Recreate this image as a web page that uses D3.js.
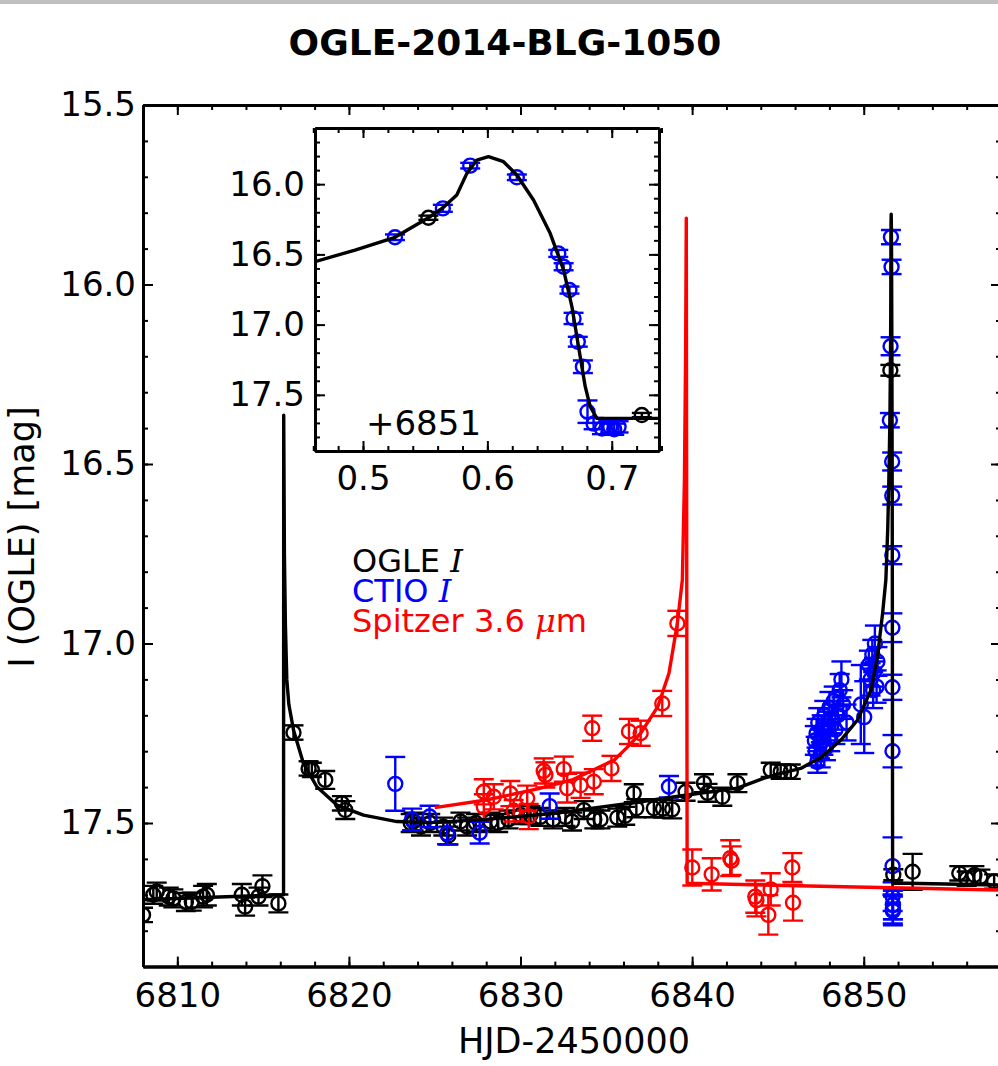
<!DOCTYPE html>
<html>
<head>
<meta charset="utf-8">
<script src="https://cdn.jsdelivr.net/npm/d3@7"></script>
<style>
  body { margin: 0; background: #fff; }
  svg { display: block; }
</style>
</head>
<body>
<script>
// ---- data (HJD-2450000, I mag, error) ----
var ogle = [
  [6808.0,17.756,0.02],[6808.6,17.70,0.025],[6808.8,17.691,0.025],[6809.5,17.705,0.025],
  [6809.77,17.71,0.025],[6810.5,17.72,0.025],[6810.84,17.719,0.025],[6811.5,17.705,0.03],
  [6811.72,17.70,0.03],[6813.76,17.70,0.03],[6813.95,17.733,0.025],[6814.73,17.705,0.025],
  [6814.96,17.676,0.03],[6815.89,17.724,0.025],[6816.77,17.248,0.02],[6817.65,17.348,0.02],
  [6817.84,17.352,0.02],[6818.62,17.38,0.025],[6819.59,17.445,0.02],[6819.79,17.464,0.025],
  [6823.6,17.50,0.025],[6823.77,17.496,0.025],[6824.2,17.51,0.025],[6824.74,17.50,0.025],
  [6825.5,17.51,0.025],[6825.8,17.535,0.025],[6826.5,17.496,0.025],[6826.89,17.51,0.025],
  [6827.4,17.50,0.025],[6828.25,17.496,0.025],[6828.7,17.50,0.025],[6829.3,17.49,0.025],
  [6830.0,17.478,0.025],[6830.58,17.478,0.025],[6831.16,17.483,0.025],[6831.9,17.49,0.025],
  [6832.62,17.483,0.025],[6833.0,17.496,0.025],[6833.69,17.464,0.025],[6834.3,17.49,0.025],
  [6834.66,17.49,0.025],[6835.64,17.485,0.025],[6836.1,17.48,0.025],[6836.6,17.417,0.025],
  [6836.75,17.459,0.025],[6837.77,17.459,0.025],[6838.3,17.46,0.025],[6838.84,17.462,0.025],
  [6839.62,17.413,0.025],[6840.69,17.389,0.025],[6840.9,17.416,0.025],[6841.76,17.427,0.025],
  [6842.64,17.389,0.025],[6844.58,17.352,0.02],[6845.16,17.357,0.02],[6845.75,17.357,0.02],
  [6852.85,17.636,0.05],[6855.57,17.64,0.02],[6856.0,17.655,0.02],[6856.45,17.645,0.025],
  [6856.8,17.65,0.02],[6857.6,17.663,0.02]
];
// OGLE points on the second caustic, days after 6851
var ogleSpike = [[0.5526,16.239,0.015],[0.7242,17.644,0.015]];

var ctio = [
  [6822.7,17.391,0.075],[6823.68,17.49,0.03],[6824.7,17.482,0.03],[6825.72,17.529,0.03],
  [6827.62,17.527,0.03],[6831.7,17.453,0.035],[6838.65,17.399,0.03],
  [6847.15,17.27,0.04],[6847.2,17.30,0.04],[6847.25,17.25,0.04],[6847.3,17.33,0.03],
  [6847.35,17.22,0.04],[6847.45,17.28,0.04],[6847.5,17.31,0.035],[6847.55,17.24,0.04],
  [6847.65,17.27,0.04],[6847.7,17.20,0.04],[6847.8,17.29,0.035],[6847.9,17.23,0.04],
  [6848.0,17.18,0.045],[6848.05,17.26,0.04],[6848.15,17.21,0.04],[6848.25,17.16,0.04],
  [6848.35,17.24,0.04],[6848.5,17.20,0.04],[6848.6,17.13,0.045],[6848.7,17.10,0.05],
  [6848.8,17.17,0.04],[6849.0,17.22,0.05],[6849.83,17.17,0.11],[6850.03,17.205,0.10],
  [6850.3,17.06,0.04],[6850.4,17.10,0.045],[6850.5,17.03,0.04],[6850.55,17.13,0.05],
  [6850.6,17.08,0.04],[6850.65,17.00,0.05],[6850.75,17.12,0.045],[6850.8,17.05,0.04]
];
// CTIO points on the second caustic, days after 6851
var ctioSpike = [
  [0.5257,16.378,0.02],[0.5642,16.172,0.025],[0.5862,15.868,0.02],[0.6237,15.951,0.02],
  [0.657,16.493,0.025],[0.6613,16.588,0.025],[0.666,16.754,0.025],[0.6693,16.956,0.04],
  [0.6727,17.122,0.035],[0.6768,17.30,0.045],[0.6805,17.62,0.08],[0.6854,17.705,0.04],
  [0.6921,17.74,0.04],[0.6988,17.728,0.04],[0.7055,17.728,0.04],[0.702,17.745,0.04]
];

var spitzer = [
  [6827.86,17.413,0.035],[6827.86,17.455,0.035],[6828.44,17.427,0.035],[6829.41,17.418,0.035],
  [6829.6,17.466,0.03],[6830.39,17.431,0.035],[6830.48,17.482,0.035],[6831.35,17.355,0.035],
  [6831.45,17.366,0.035],[6832.52,17.35,0.035],[6832.72,17.403,0.04],[6833.5,17.395,0.035],
  [6834.27,17.385,0.035],[6834.18,17.236,0.035],[6835.3,17.348,0.035],[6836.32,17.245,0.035],
  [6837.0,17.25,0.035],[6838.26,17.167,0.035],[6839.14,16.944,0.035],[6840.01,17.624,0.05],
  [6841.14,17.643,0.045],[6842.22,17.598,0.05],[6842.3,17.605,0.04],[6843.68,17.705,0.045],
  [6843.75,17.715,0.045],[6844.58,17.685,0.045],[6844.44,17.756,0.055],[6845.84,17.624,0.04],
  [6845.88,17.722,0.05]
];

// ---- model curves ----
var ogleModelPre = [
  [6808,17.714],[6812,17.707],[6816.15,17.70],[6816.19,17.70],[6816.2,16.364],[6816.24,16.75],
  [6816.3,16.95],[6816.38,17.10],[6816.5,17.17],[6816.77,17.241],[6817.35,17.334],[6818.13,17.399],
  [6819.3,17.45],[6820.85,17.478],[6822.8,17.496],[6824.74,17.499],[6828,17.49],[6832,17.473],
  [6836.4,17.445],[6839.7,17.422],[6842.64,17.403],[6844.2,17.375],[6845.16,17.362],[6846.33,17.348],
  [6847.2,17.325],[6847.5,17.318],[6848.67,17.269],[6849.64,17.213],[6850.42,17.13],[6850.8,17.037],
  [6851.1,16.916],[6851.29,16.823],[6851.4,16.68]
];
// caustic crossing, days after 6851
var ogleModelSpike = [
  [0.4614,16.552],[0.4936,16.469],[0.5257,16.378],[0.5526,16.239],[0.5647,16.165],[0.5754,16.077],
  [0.5835,15.923],[0.5915,15.828],[0.6009,15.804],[0.613,15.84],[0.6237,15.935],[0.6371,16.113],
  [0.6505,16.35],[0.6613,16.611],[0.668,16.873],[0.6733,17.158],[0.6787,17.442],[0.6827,17.585],
  [0.6881,17.668],[0.7385,17.668]
];
var ogleModelPost = [[6852.5,17.668],[6858,17.673]];

var spitzerModel = [
  [6825.0,17.457],[6828,17.436],[6831,17.405],[6833,17.38],[6835.45,17.325],[6836.2,17.29],
  [6837,17.25],[6838,17.176],[6838.65,17.083],[6839.14,16.944],[6839.43,16.823],[6839.55,16.55],
  [6839.62,16.2],[6839.66,15.815],[6839.71,17.668],[6858,17.687]
];

var spikeOffset = 6851;
var xTicks = [6810, 6820, 6830, 6840, 6850];
var yTicks = [15.5, 16.0, 16.5, 17.0, 17.5];
var insetXTicks = [0.5, 0.6, 0.7];
var insetYTicks = [16.0, 16.5, 17.0, 17.5];

var colors = { ogle: "#000000", ctio: "#0000ff", spitzer: "#ff0000" };

// ---- setup ----
var width = 998, height = 1066;
var svg = d3.select("body").append("svg")
  .attr("width", width)
  .attr("height", height)
  .style("font-family", "'DejaVu Sans', sans-serif");

svg.append("rect").attr("width", width).attr("height", height).attr("fill", "#fff");
svg.append("rect").attr("width", width).attr("height", 4).attr("fill", "#bfbfbf");

var x = d3.scaleLinear().domain([6808, 6858]).range([143, 1001]);
var y = d3.scaleLinear().domain([15.5, 17.9]).range([105, 966.6]);

var xi = d3.scaleLinear().domain([0.4614, 0.738]).range([315, 659]);
var yi = d3.scaleLinear().domain([15.6, 17.9]).range([128, 451]);

var defs = svg.append("defs");
defs.append("clipPath").attr("id", "clip-main").append("rect")
  .attr("x", x.range()[0]).attr("y", y.range()[0])
  .attr("width", x.range()[1] - x.range()[0]).attr("height", y.range()[1] - y.range()[0]);
defs.append("clipPath").attr("id", "clip-inset").append("rect")
  .attr("x", xi.range()[0]).attr("y", yi.range()[0])
  .attr("width", xi.range()[1] - xi.range()[0]).attr("height", yi.range()[1] - yi.range()[0]);

function shift(arr, off) {
  return arr.map(function(d){ return [d[0] + off].concat(d.slice(1)); });
}

// error bars + open circles
function drawPoints(g, data, xs, ys, color) {
  var pt = g.append("g").selectAll("g")
    .data(data)
    .enter()
    .append("g")
    .attr("stroke", color)
    .attr("stroke-width", 2.4)
    .attr("fill", "none");
  pt.append("line")
    .attr("x1", function(d){ return xs(d[0]); })
    .attr("x2", function(d){ return xs(d[0]); })
    .attr("y1", function(d){ return ys(d[1] - d[2]); })
    .attr("y2", function(d){ return ys(d[1] + d[2]); });
  [-1, 1].forEach(function(s){
    pt.append("line")
      .attr("x1", function(d){ return xs(d[0]) - 10; })
      .attr("x2", function(d){ return xs(d[0]) + 10; })
      .attr("y1", function(d){ return ys(d[1] + s * d[2]); })
      .attr("y2", function(d){ return ys(d[1] + s * d[2]); });
  });
  pt.append("circle")
    .attr("cx", function(d){ return xs(d[0]); })
    .attr("cy", function(d){ return ys(d[1]); })
    .attr("r", 7);
}

function drawLine(g, data, xs, ys, color) {
  var line = d3.line()
    .x(function(d){ return xs(d[0]); })
    .y(function(d){ return ys(d[1]); });
  g.append("path")
    .datum(data)
    .attr("d", line)
    .attr("fill", "none")
    .attr("stroke", color)
    .attr("stroke-width", 3.4)
    .attr("stroke-linejoin", "round");
}

// frame with inward ticks on all four sides
function drawFrame(g, xs, ys, xMajor, xMinor, yMajor, yMinor, xFmt, xPad, yPad) {
  var x0 = xs.range()[0], x1 = xs.range()[1], y0 = ys.range()[0], y1 = ys.range()[1];
  var parts = [
    [d3.axisBottom(xs).tickValues(xMajor).tickSize(-10).tickPadding(xPad).tickFormat(d3.format(xFmt)), "translate(0," + y1 + ")"],
    [d3.axisBottom(xs).tickValues(xMinor).tickSize(-5).tickFormat(""), "translate(0," + y1 + ")"],
    [d3.axisTop(xs).tickValues(xMajor).tickSize(-10).tickFormat(""), "translate(0," + y0 + ")"],
    [d3.axisTop(xs).tickValues(xMinor).tickSize(-5).tickFormat(""), "translate(0," + y0 + ")"],
    [d3.axisLeft(ys).tickValues(yMajor).tickSize(-10).tickPadding(yPad).tickFormat(d3.format(".1f")), "translate(" + x0 + ",0)"],
    [d3.axisLeft(ys).tickValues(yMinor).tickSize(-5).tickFormat(""), "translate(" + x0 + ",0)"],
    [d3.axisRight(ys).tickValues(yMajor).tickSize(-10).tickFormat(""), "translate(" + x1 + ",0)"],
    [d3.axisRight(ys).tickValues(yMinor).tickSize(-5).tickFormat(""), "translate(" + x1 + ",0)"]
  ];
  parts.forEach(function(p){
    var a = g.append("g").attr("transform", p[1]).call(p[0].tickSizeOuter(0));
    a.select(".domain").attr("stroke-width", 3).attr("stroke", "#000");
    a.selectAll(".tick line").attr("stroke-width", 2).attr("stroke", "#000");
    a.selectAll("text")
      .attr("font-size", 34)
      .attr("font-family", "'DejaVu Sans', sans-serif")
      .attr("fill", "#000");
  });
}

// ---- main panel ----
var main = svg.append("g");
var mainPlot = main.append("g").attr("clip-path", "url(#clip-main)");

drawPoints(mainPlot, ogle.concat(shift(ogleSpike, spikeOffset)), x, y, colors.ogle);
drawPoints(mainPlot, ctio.concat(shift(ctioSpike, spikeOffset)), x, y, colors.ctio);
drawPoints(mainPlot, spitzer, x, y, colors.spitzer);
drawLine(mainPlot, ogleModelPre.concat(shift(ogleModelSpike, spikeOffset), ogleModelPost), x, y, colors.ogle);
drawLine(mainPlot, spitzerModel, x, y, colors.spitzer);

drawFrame(main, x, y, xTicks, d3.range(6808, 6858.1, 2),
  yTicks, d3.range(155, 179.1, 1).map(function(v){ return v / 10; }), "d", 16, 7);

// legend (tight line spacing, as in the original)
var legend = main.append("g").attr("font-size", 32);
var legendRows = [
  { label: "OGLE ", tail: "I", color: colors.ogle },
  { label: "CTIO ", tail: "I", color: colors.ctio },
  { label: "Spitzer 3.6 ", tail: "\u03bc", after: "m", color: colors.spitzer }
];
legendRows.forEach(function(r, i){
  var t = legend.append("text")
    .attr("x", 352)
    .attr("y", 572 + i * 30)
    .attr("fill", r.color)
    .attr("xml:space", "preserve");
  t.append("tspan").text(r.label);
  t.append("tspan").attr("font-family", "'DejaVu Serif', serif").attr("font-style", "italic").text(r.tail);
  if (r.after) t.append("tspan").text(r.after);
});

// ---- inset ----
var inset = svg.append("g");
inset.append("rect")
  .attr("x", xi.range()[0]).attr("y", yi.range()[0])
  .attr("width", xi.range()[1] - xi.range()[0]).attr("height", yi.range()[1] - yi.range()[0])
  .attr("fill", "#fff");
var insetPlot = inset.append("g").attr("clip-path", "url(#clip-inset)");
drawPoints(insetPlot, ogleSpike, xi, yi, colors.ogle);
drawPoints(insetPlot, ctioSpike, xi, yi, colors.ctio);
drawLine(insetPlot, ogleModelSpike, xi, yi, colors.ogle);

drawFrame(inset, xi, yi, insetXTicks, d3.range(23, 37.1, 1).map(function(v){ return v / 50; }),
  insetYTicks, d3.range(156, 179.1, 1).map(function(v){ return v / 10; }), ".1f", 15, 10);

inset.append("text")
  .attr("x", 366)
  .attr("y", 435)
  .attr("font-size", 34)
  .text("+" + spikeOffset);

// ---- titles ----
svg.append("text")
  .attr("x", 505)
  .attr("y", 55)
  .attr("text-anchor", "middle")
  .attr("font-size", 36)
  .attr("font-weight", "bold")
  .text("OGLE-2014-BLG-1050");

svg.append("text")
  .attr("x", 574)
  .attr("y", 1053)
  .attr("text-anchor", "middle")
  .attr("font-size", 35)
  .text("HJD-2450000");

svg.append("text")
  .attr("transform", "translate(34,537) rotate(-90)")
  .attr("text-anchor", "middle")
  .attr("font-size", 35)
  .text("I (OGLE) [mag]");
</script>
</body>
</html>
